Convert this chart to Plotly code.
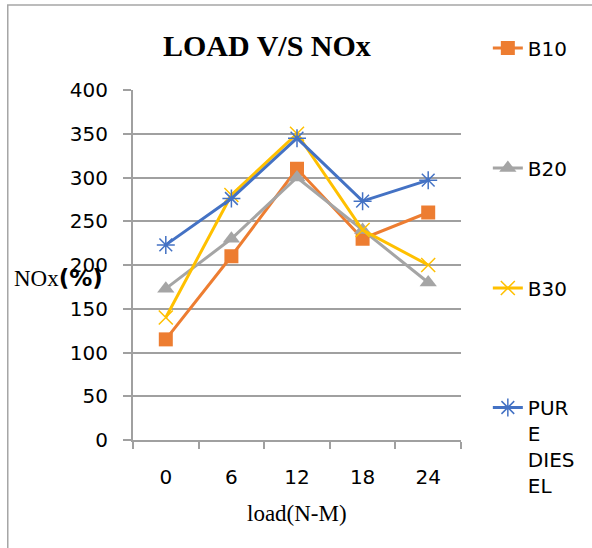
import plotly.graph_objects as go

loads = ["0", "6", "12", "18", "24"]
b10 = [115, 210, 310, 230, 260]
b20 = [173, 230, 300, 240, 180]
b30 = [140, 280, 350, 240, 200]
pure_diesel = [223, 276, 345, 273, 297]

series_names = ["B10", "B20", "B30", "PUR<br>E<br>DIES<br>EL"]
colors = ["#ED7D31", "#A5A5A5", "#FFC000", "#4472C4"]
y_ticks = [0, 50, 100, 150, 200, 250, 300, 350, 400]

SANS = "DejaVu Sans"
SERIF = "Liberation Serif"

fig = go.Figure()

markers = [
    dict(symbol="square", size=14, color=colors[0]),
    dict(symbol="triangle-up", size=15, color=colors[1]),
    dict(symbol="x-thin-open", size=14, color=colors[2], line=dict(width=1.5, color=colors[2])),
    dict(symbol="asterisk-open", size=15, color=colors[3], line=dict(width=1.5, color=colors[3])),
]
data = [b10, b20, b30, pure_diesel]
legends = ["legend", "legend2", "legend3", "legend4"]

for i in range(4):
    fig.add_trace(go.Scatter(
        x=loads, y=data[i], name=series_names[i], mode="lines+markers",
        line=dict(color=colors[i], width=3), marker=markers[i],
        legend=legends[i], showlegend=True,
    ))

def py(y):
    return (440 - y) / 350

leg_x = (490 - 133) / 330
leg_common = dict(x=leg_x, xanchor="left", bgcolor="rgba(0,0,0,0)",
                  font=dict(family=SANS, size=20, color="#000000"), valign="top")

fig.update_layout(
    width=592, height=548,
    showlegend=True,
    margin=dict(l=133, r=129, t=90, b=108),
    paper_bgcolor="white", plot_bgcolor="white",
    legend=dict(**leg_common, y=py(48), yanchor="middle"),
    legend2=dict(**leg_common, y=py(168), yanchor="middle"),
    legend3=dict(**leg_common, y=py(288), yanchor="middle"),
    legend4=dict(**leg_common, y=py(388), yanchor="top"),
    xaxis=dict(
        type="category", tickson="boundaries", showgrid=False,
        showline=True, linecolor="#A0A0A0", linewidth=2,
        ticks="outside", ticklen=7, tickcolor="#A0A0A0", tickwidth=1.5,
        tickfont=dict(family=SANS, size=20, color="#000000"),
        ticklabelstandoff=18,
        range=[-0.5, 4.5],
    ),
    yaxis=dict(
        range=[0, 400], tickvals=y_ticks, showgrid=True, gridcolor="#A0A0A0", gridwidth=1.5,
        showline=True, linecolor="#A0A0A0", linewidth=2,
        ticks="outside", ticklen=8, tickcolor="#A0A0A0", tickwidth=1.5,
        tickfont=dict(family=SANS, size=20, color="#000000"),
        ticklabelstandoff=11, zeroline=False,
    ),
    annotations=[
        dict(text="<b>LOAD V/S NOx</b>", xref="paper", yref="paper",
             x=(268 - 133) / 330, y=py(45), xanchor="center", yanchor="middle",
             showarrow=False, font=dict(family=SERIF, size=30, color="#000000")),
        dict(text="load(N-M)", xref="paper", yref="paper",
             x=0.5, y=py(513), xanchor="center", yanchor="middle",
             showarrow=False, font=dict(family=SERIF, size=23, color="#000000")),
        dict(text="NOx<span style='font-family:DejaVu Sans;font-weight:bold'>(%)</span>",
             xref="paper", yref="paper",
             x=(58 - 133) / 330, y=py(278), xanchor="center", yanchor="middle",
             showarrow=False, font=dict(family=SERIF, size=23, color="#000000")),
    ],
    shapes=[
        dict(type="rect", xref="paper", yref="paper",
             x0=(7 - 133) / 330, x1=1.6, y0=-0.5, y1=py(5),
             line=dict(color="#A6A6A6", width=1.5), layer="below"),
    ],
)

fig.write_html("out.html")
